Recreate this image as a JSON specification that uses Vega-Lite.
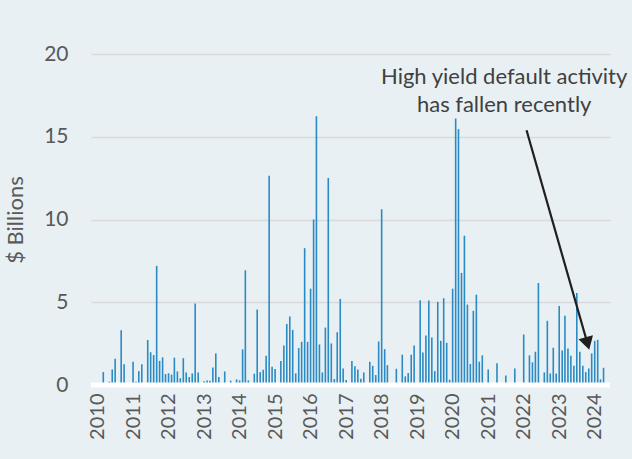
{
  "$schema": "https://vega.github.io/schema/vega-lite/v6.json",
  "autosize": "none",
  "width": 519,
  "height": 331,
  "padding": {"left": 91, "top": 54, "right": 22, "bottom": 74},
  "background": "#e8f0f3",
  "config": {
    "view": {"stroke": null},
    "font": "Lato",
    "axis": {"labelFont": "Lato", "titleFont": "Lato"},
    "axisX": {"labelOverlap": false, "labelBound": false, "labelFlush": false, "labelAngle": -90, "labelFontSize": 20, "labelColor": "#595959", "labelPadding": 8, "domain": false, "ticks": false, "grid": false, "title": null, "format": "%Y", "formatType": "utc", "tickCount": {"interval": "year", "step": 1}}
  },
  "data": {"values": [
    {"date": "2010-03-01", "value": 0.78}, {"date": "2010-05-01", "value": 0.2}, {"date": "2010-06-01", "value": 0.94}, {"date": "2010-07-01", "value": 1.59}, {"date": "2010-09-01", "value": 3.31}, {"date": "2010-10-01", "value": 1.26},
    {"date": "2011-01-01", "value": 1.4}, {"date": "2011-02-01", "value": 0.2}, {"date": "2011-03-01", "value": 0.84}, {"date": "2011-04-01", "value": 1.25}, {"date": "2011-06-01", "value": 2.72}, {"date": "2011-07-01", "value": 1.98}, {"date": "2011-08-01", "value": 1.81}, {"date": "2011-09-01", "value": 7.2}, {"date": "2011-10-01", "value": 1.46}, {"date": "2011-11-01", "value": 1.67}, {"date": "2011-12-01", "value": 0.66},
    {"date": "2012-01-01", "value": 0.71}, {"date": "2012-02-01", "value": 0.63}, {"date": "2012-03-01", "value": 1.65}, {"date": "2012-04-01", "value": 0.82}, {"date": "2012-05-01", "value": 0.41}, {"date": "2012-06-01", "value": 1.62}, {"date": "2012-07-01", "value": 0.76}, {"date": "2012-08-01", "value": 0.48}, {"date": "2012-09-01", "value": 0.7}, {"date": "2012-10-01", "value": 4.93}, {"date": "2012-11-01", "value": 0.76},
    {"date": "2013-01-01", "value": 0.22}, {"date": "2013-02-01", "value": 0.27}, {"date": "2013-03-01", "value": 0.26}, {"date": "2013-04-01", "value": 1.06}, {"date": "2013-05-01", "value": 1.91}, {"date": "2013-06-01", "value": 0.48}, {"date": "2013-08-01", "value": 0.82}, {"date": "2013-10-01", "value": 0.26}, {"date": "2013-12-01", "value": 0.34},
    {"date": "2014-01-01", "value": 0.28}, {"date": "2014-02-01", "value": 2.15}, {"date": "2014-03-01", "value": 6.93}, {"date": "2014-04-01", "value": 0.28}, {"date": "2014-06-01", "value": 0.68}, {"date": "2014-07-01", "value": 4.56}, {"date": "2014-08-01", "value": 0.78}, {"date": "2014-09-01", "value": 0.92}, {"date": "2014-10-01", "value": 1.77}, {"date": "2014-11-01", "value": 12.65}, {"date": "2014-12-01", "value": 1.1},
    {"date": "2015-01-01", "value": 0.96}, {"date": "2015-03-01", "value": 1.45}, {"date": "2015-04-01", "value": 2.39}, {"date": "2015-05-01", "value": 3.69}, {"date": "2015-06-01", "value": 4.14}, {"date": "2015-07-01", "value": 3.33}, {"date": "2015-08-01", "value": 0.7}, {"date": "2015-09-01", "value": 2.23}, {"date": "2015-10-01", "value": 2.61}, {"date": "2015-11-01", "value": 8.27}, {"date": "2015-12-01", "value": 2.61},
    {"date": "2016-01-01", "value": 5.82}, {"date": "2016-02-01", "value": 10.0}, {"date": "2016-03-01", "value": 16.24}, {"date": "2016-04-01", "value": 2.45}, {"date": "2016-05-01", "value": 0.76}, {"date": "2016-06-01", "value": 3.47}, {"date": "2016-07-01", "value": 12.51}, {"date": "2016-08-01", "value": 2.51}, {"date": "2016-09-01", "value": 0.36}, {"date": "2016-10-01", "value": 3.19}, {"date": "2016-11-01", "value": 5.2}, {"date": "2016-12-01", "value": 1.0},
    {"date": "2017-01-01", "value": 0.3}, {"date": "2017-03-01", "value": 1.45}, {"date": "2017-04-01", "value": 1.14}, {"date": "2017-05-01", "value": 0.94}, {"date": "2017-06-01", "value": 0.38}, {"date": "2017-07-01", "value": 0.76}, {"date": "2017-09-01", "value": 1.41}, {"date": "2017-10-01", "value": 1.16}, {"date": "2017-11-01", "value": 0.6}, {"date": "2017-12-01", "value": 2.63},
    {"date": "2018-01-01", "value": 10.62}, {"date": "2018-02-01", "value": 2.17}, {"date": "2018-03-01", "value": 1.2}, {"date": "2018-06-01", "value": 0.98}, {"date": "2018-08-01", "value": 1.83}, {"date": "2018-09-01", "value": 0.52}, {"date": "2018-10-01", "value": 0.72}, {"date": "2018-11-01", "value": 1.83}, {"date": "2018-12-01", "value": 2.39},
    {"date": "2019-02-01", "value": 5.12}, {"date": "2019-03-01", "value": 1.97}, {"date": "2019-04-01", "value": 2.99}, {"date": "2019-05-01", "value": 5.1}, {"date": "2019-06-01", "value": 2.87}, {"date": "2019-07-01", "value": 0.84}, {"date": "2019-08-01", "value": 5.02}, {"date": "2019-09-01", "value": 2.67}, {"date": "2019-10-01", "value": 5.24}, {"date": "2019-11-01", "value": 2.55}, {"date": "2019-12-01", "value": 0.32},
    {"date": "2020-01-01", "value": 5.82}, {"date": "2020-02-01", "value": 16.1}, {"date": "2020-03-01", "value": 15.46}, {"date": "2020-04-01", "value": 6.77}, {"date": "2020-05-01", "value": 9.02}, {"date": "2020-06-01", "value": 4.86}, {"date": "2020-07-01", "value": 1.27}, {"date": "2020-08-01", "value": 4.48}, {"date": "2020-09-01", "value": 5.46}, {"date": "2020-10-01", "value": 1.41}, {"date": "2020-11-01", "value": 1.79},
    {"date": "2021-01-01", "value": 0.94}, {"date": "2021-04-01", "value": 1.31}, {"date": "2021-07-01", "value": 0.58}, {"date": "2021-10-01", "value": 1.0},
    {"date": "2022-01-01", "value": 3.05}, {"date": "2022-03-01", "value": 1.79}, {"date": "2022-04-01", "value": 1.37}, {"date": "2022-05-01", "value": 2.01}, {"date": "2022-06-01", "value": 6.16}, {"date": "2022-08-01", "value": 0.76}, {"date": "2022-09-01", "value": 3.88}, {"date": "2022-10-01", "value": 0.7}, {"date": "2022-11-01", "value": 2.25}, {"date": "2022-12-01", "value": 0.7},
    {"date": "2023-01-01", "value": 4.78}, {"date": "2023-02-01", "value": 2.09}, {"date": "2023-03-01", "value": 4.18}, {"date": "2023-04-01", "value": 2.21}, {"date": "2023-05-01", "value": 1.77}, {"date": "2023-06-01", "value": 1.16}, {"date": "2023-07-01", "value": 5.56}, {"date": "2023-08-01", "value": 2.01}, {"date": "2023-09-01", "value": 1.16}, {"date": "2023-10-01", "value": 0.78}, {"date": "2023-11-01", "value": 1.0}, {"date": "2023-12-01", "value": 1.91},
    {"date": "2024-01-01", "value": 2.67}, {"date": "2024-02-01", "value": 2.73}, {"date": "2024-03-01", "value": 0.34}, {"date": "2024-04-01", "value": 1.04}
  ]},
  "layer": [
    {
      "mark": {"type": "bar", "width": 1.6, "color": "#2a8ac4"},
      "encoding": {
        "x": {
          "field": "date", "type": "temporal",
          "scale": {"type": "utc", "domain": [{"year": 2009, "month": 12, "date": 16, "utc": true}, {"year": 2024, "month": 4, "date": 16, "utc": true}]},
          "axis": {"tickCount": {"interval": "year", "step": 1}, "format": "%Y", "formatType": "utc", "labelOverlap": false}
        },
        "y": {
          "field": "value", "type": "quantitative",
          "scale": {"domain": [0, 20], "nice": false},
          "axis": {
            "values": [0, 5, 10, 15, 20], "domain": false, "ticks": false,
            "gridColor": "#d9d9d9", "gridWidth": 1.5,
            "labelFontSize": 21, "labelColor": "#595959", "labelPadding": 23,
            "title": "$ Billions", "titleFontSize": 22, "titleColor": "#595959",
            "titleFontWeight": "normal", "titlePadding": 16
          }
        }
      }
    },
    {
      "data": {"values": [{}]},
      "mark": {"type": "rule", "color": "#ffffff", "strokeWidth": 5},
      "encoding": {"y": {"datum": 0}}
    },
    {
      "data": {"values": [{}]},
      "mark": {"type": "rule", "color": "#1f1f1f", "strokeWidth": 2.2},
      "encoding": {
        "x": {"datum": {"year": 2022, "month": 1, "date": 30, "utc": true}, "type": "temporal", "axis": {"tickCount": {"interval": "year", "step": 1}, "format": "%Y", "formatType": "utc", "labelOverlap": false}},
        "y": {"datum": 15.39, "type": "quantitative"},
        "x2": {"datum": {"year": 2023, "month": 10, "date": 19, "utc": true}},
        "y2": {"datum": 2.51}
      }
    },
    {
      "data": {"values": [{}]},
      "mark": {"type": "point", "shape": "triangle-down", "filled": true, "size": 225, "angle": 344, "color": "#1f1f1f", "opacity": 1},
      "encoding": {
        "x": {"datum": {"year": 2023, "month": 10, "date": 19, "utc": true}, "type": "temporal", "axis": {"tickCount": {"interval": "year", "step": 1}, "format": "%Y", "formatType": "utc", "labelOverlap": false}},
        "y": {"datum": 2.51, "type": "quantitative"}
      }
    },
    {
      "data": {"values": [{}]},
      "mark": {"type": "text", "text": ["High yield default activity", "has fallen recently"], "font": "Lato", "fontSize": 22, "color": "#404040", "align": "center", "baseline": "middle", "lineHeight": 28},
      "encoding": {
        "x": {"datum": {"year": 2021, "month": 6, "date": 14, "utc": true}, "type": "temporal", "axis": {"tickCount": {"interval": "year", "step": 1}, "format": "%Y", "formatType": "utc", "labelOverlap": false}},
        "y": {"datum": 18.61, "type": "quantitative"}
      }
    }
  ]
}
